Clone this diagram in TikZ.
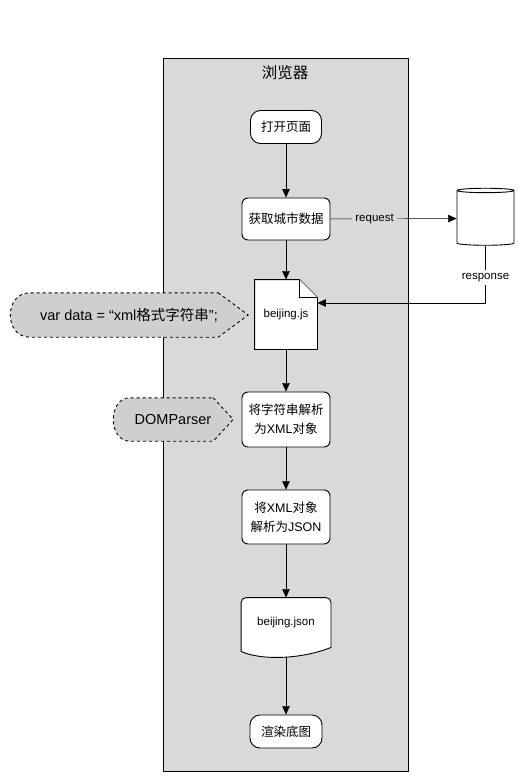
\documentclass[tikz,border=0pt]{standalone}
\usepackage{fontspec}
\setmainfont{Liberation Sans}
\newfontfamily\zh{Noto Sans CJK SC}
\usetikzlibrary{arrows.meta,shapes.geometric}
\definecolor{bggray}{HTML}{D9D9D9}
\definecolor{notegray}{HTML}{CFCFCF}
\pgfdeclarelayer{back}
\pgfdeclarelayer{mid}
\pgfsetlayers{back,mid,main}
\tikzset{
  box/.style = {align=center, inner sep=2pt, draw=black, fill=white,
    line width=0.9pt, font=\fontsize{12.5}{19}\selectfont},
  box_s/.style = {box, rounded corners=10pt, minimum width=71pt,
    minimum height=33pt},% debut / fin
  box_p/.style = {box, rounded corners=6pt, minimum width=88pt,
    minimum height=42pt},% etape
  box_d/.style = {box, draw=none, fill=none, minimum width=62pt,
    minimum height=69pt, font=\fontsize{11.5}{14}\selectfont},% document, contour a part
  db/.style = {box, cylinder, shape border rotate=90, aspect=1.1,
    minimum width=57pt, minimum height=57pt},% serveur
  note_d/.style = {inner sep=0pt, font=\fontsize{14.5}{17}\selectfont},% bulle pointillee
  outline/.style = {-, draw=black, fill=white, line width=0.9pt},
  note_line/.style = {-, draw=black, dashed, fill=notegray, line width=0.9pt},
  lbl/.style = {font=\fontsize{11.5}{14}\selectfont, inner sep=3pt}
}
\begin{document}
\begin{tikzpicture}[x=1pt, y=-1pt, ->, >={Triangle[length=8.5pt,width=7.5pt]},
  line width=0.9pt]
\useasboundingbox (0,0) rectangle (527,783);
\begin{pgfonlayer}{back}
\node [draw=black, fill=bggray, line width=0.9pt, inner sep=0pt,
  minimum width=245pt, minimum height=713pt] (lane) at (285.5,414.5) {};
\end{pgfonlayer}
\node [font=\zh\fontsize{15.5}{18}\selectfont] (lane_t) at (285,73) {浏览器};

\node [box_s] (open) at (286,127) {\zh 打开页面};
\node [box_p] (fetch) at (286,219) {\zh 获取城市数据};
\node [db] (server) at (485.5,218.5) {};
\node [box_d] (js) at (286,314.5) {beijing.js};
\node [box_p, minimum height=55pt] (parse) at (286,419.5)
  {{\zh 将字符串解析}\\{\zh 为}XML{\zh 对象}};
\node [box_p, minimum height=54pt] (tojson) at (286,517)
  {{\zh 将}XML{\zh 对象}\\{\zh 解析为}JSON};
\node [box_d, minimum width=89pt, minimum height=49pt] (json) at (286,622.5) {beijing.json};
\node [box_s, minimum width=72pt] (render) at (286,731.5) {\zh 渲染底图};

\node [note_d, minimum width=238pt, minimum height=44pt] (vardata) at (129,315)
  {var data = “xml{\zh 格式字符串}”;};
\node [note_d, minimum width=120pt, minimum height=43pt] (dom) at (173,419.5) {DOMParser};

% contours
\begin{pgfonlayer}{mid}
\draw [outline] (js.north west) -- ([xshift=-18pt]js.north east)
  -- ([yshift=-18pt]js.north east) -- (js.south east) -- (js.south west) -- cycle;
\draw [outline] ([xshift=-18pt]js.north east) -- ([xshift=-18pt,yshift=-18pt]js.north east)
  -- ([yshift=-18pt]js.north east);
\draw [outline] (json.south west) [rounded corners=5pt] -- (json.north west)
  -- (json.north east) [sharp corners] -- (json.south east)
  .. controls ([xshift=-30pt,yshift=-12pt]json.south east)
  and ([xshift=20pt,yshift=-13pt]json.south west) .. ([yshift=-4pt]json.south west) -- cycle;
\draw [note_line] ([xshift=-30pt]vardata.north east) -- (vardata.east)
  -- ([xshift=-30pt]vardata.south east) -- ([xshift=20pt]vardata.south west)
  .. controls ([xshift=-6pt]vardata.south west) and ([xshift=-6pt]vardata.north west)
  .. ([xshift=20pt]vardata.north west) -- cycle;
\draw [note_line] ([xshift=-20pt]dom.north east) -- (dom.east)
  -- ([xshift=-20pt]dom.south east) -- ([xshift=17pt]dom.south west)
  .. controls ([xshift=-5pt]dom.south west) and ([xshift=-5pt]dom.north west)
  .. ([xshift=17pt]dom.north west) -- cycle;
\end{pgfonlayer}

% fleches
\draw (open) -- (fetch);
\draw (fetch) -- (js);
\draw (js) -- (parse);
\draw (parse) -- (tojson);
\draw (tojson) -- (json);
\draw ([yshift=-10pt]json.south) -- (render);
\draw (fetch) -- node [lbl, fill=bggray, pos=0.35] {request} (server);
\coordinate (js_in) at ([yshift=11.5pt]js.east);
\draw (server.south) -- node [lbl, fill=white, pos=0.55] {response} (server.south |- js_in)
  -- (js_in);
\end{tikzpicture}
\end{document}
